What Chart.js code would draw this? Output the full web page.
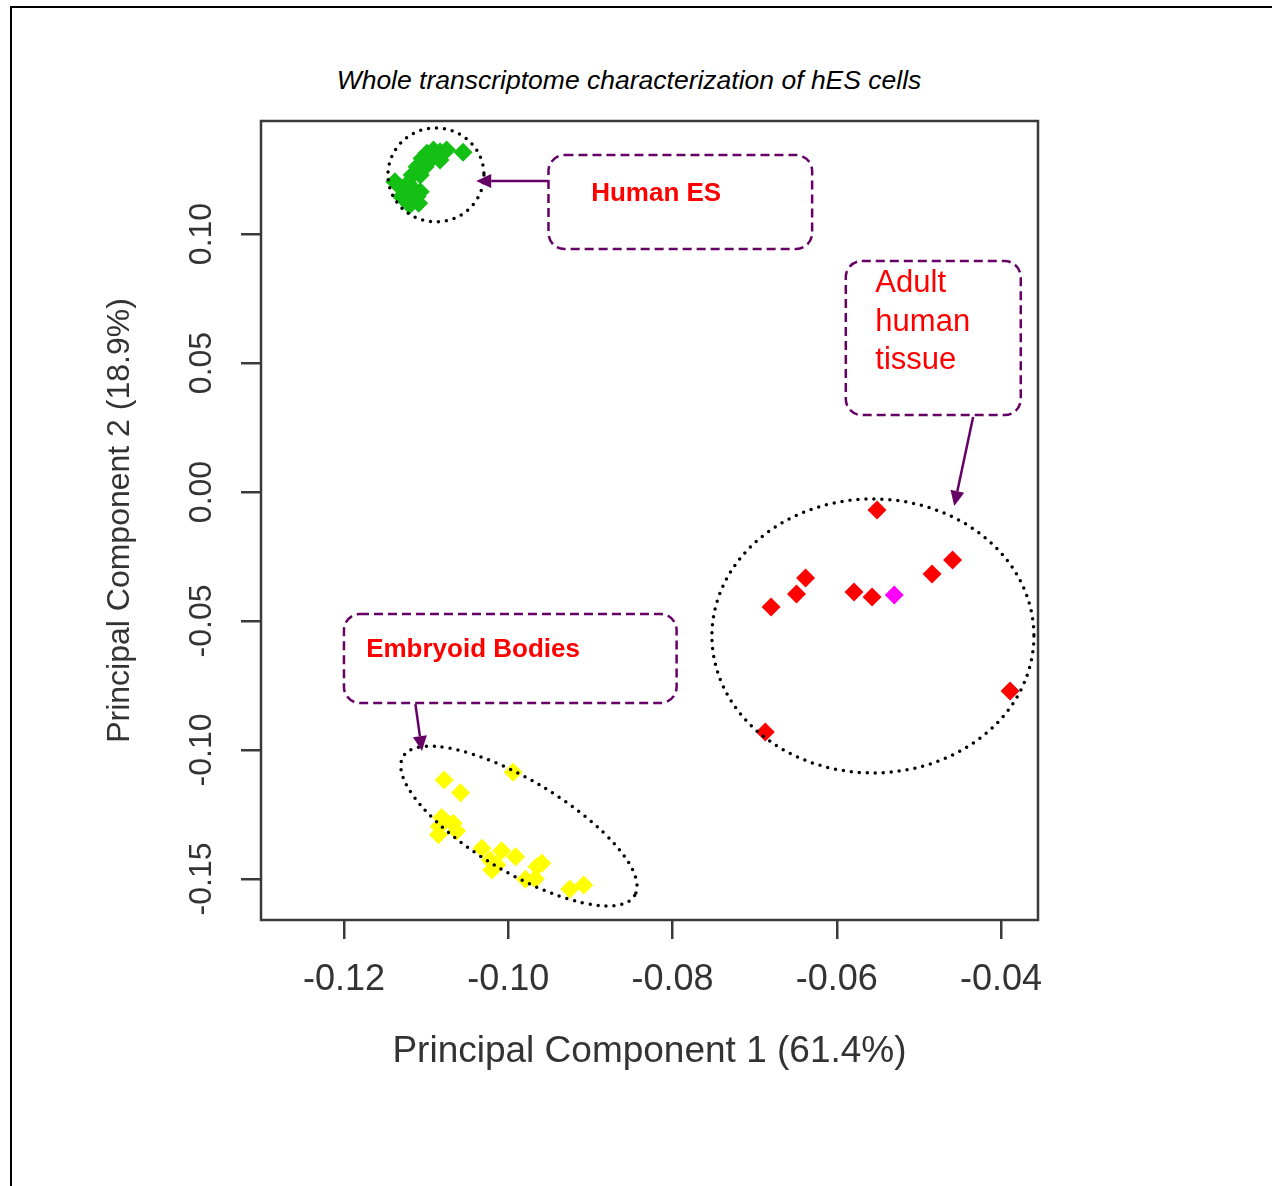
<!DOCTYPE html>
<html lang="en">
<head>
    <meta charset="UTF-8">
    <title>Whole transcriptome characterization of hES cells</title>
    <script src="https://cdn.jsdelivr.net/npm/chart.js"></script>
    <style>
        body { margin: 0; width: 1272px; height: 1186px; overflow: hidden; background: #fff; font-family: "Liberation Sans", Arial, sans-serif; position: relative; }
        .frame { position: absolute; left: 10px; top: 6px; width: 1300px; height: 1200px; border-top: 2px solid #000; border-left: 2px solid #000; }
        .title { position: absolute; left: 0; width: 1258px; top: 65px; text-align: center; font-style: italic; font-size: 26.5px; color: #000; }
        canvas { position: absolute; left: 0; top: 0; }
    </style>
</head>
<body>
    <div class="frame"></div>
    <div class="title">Whole transcriptome characterization of hES cells</div>
    <canvas id="myChart" width="1272" height="1186"></canvas>

    <script>
        // PCA scores
        const esX = [-0.1055, -0.1075, -0.1083, -0.1091, -0.1099, -0.1105, -0.1093, -0.1083, -0.1111, -0.1101, -0.1117,
                     -0.1107, -0.1122, -0.1138, -0.1132, -0.1115, -0.1126, -0.1111, -0.1107, -0.1120, -0.1109, -0.1130];
        const esY = [0.1317, 0.1326, 0.1319, 0.1326, 0.1313, 0.1293, 0.1293, 0.1287, 0.1261, 0.1261, 0.1229,
                     0.1229, 0.1197, 0.1203, 0.1183, 0.1171, 0.1151, 0.1145, 0.1164, 0.1112, 0.1119, 0.1145];

        const ebX = [-0.1078, -0.0994, -0.1058, -0.1081, -0.1084, -0.1067, -0.1063, -0.1085, -0.1032, -0.1008,
                     -0.0991, -0.1022, -0.1014, -0.1020, -0.0959, -0.0965, -0.0979, -0.0967, -0.0925, -0.0908];
        const ebY = [-0.1116, -0.1086, -0.1166, -0.1262, -0.1297, -0.1284, -0.1314, -0.1329, -0.1381, -0.1391,
                     -0.1414, -0.1426, -0.1446, -0.1465, -0.1439, -0.1452, -0.1501, -0.1500, -0.1539, -0.1523];

        const adultX = [-0.0551, -0.0459, -0.0484, -0.0638, -0.0649, -0.0680, -0.0579, -0.0557, -0.0389, -0.0687];
        const adultY = [-0.0070, -0.0264, -0.0318, -0.0333, -0.0395, -0.0446, -0.0388, -0.0407, -0.0771, -0.0930];

        const otherX = [-0.0530];
        const otherY = [-0.0399];

        const xTicks = [-0.12, -0.10, -0.08, -0.06, -0.04];
        const yTicks = [-0.15, -0.10, -0.05, 0.00, 0.05, 0.10];

        const pts = (xs, ys) => xs.map((v, i) => ({ x: v, y: ys[i] }));

        // callouts, anchored in data units
        const ellipses = [
            { x: -0.1088, y: 0.1229, rx: 48, ry: 47, rot: 0 },
            { x: -0.0987, y: -0.1295, rx: 135, ry: 46, rot: 31 },
            { x: -0.0556, y: -0.0558, rx: 161, ry: 137, rot: 0 }
        ];
        const boxes = [
            { x0: -0.0951, y0: 0.1306, x1: -0.0630, y1: 0.0942 },
            { x0: -0.0589, y0: 0.0895, x1: -0.0376, y1: 0.0298 },
            { x0: -0.1200, y0: -0.0473, x1: -0.0795, y1: -0.0818 }
        ];
        const arrows = [
            { x0: -0.0951, y0: 0.1205, x1: -0.1039, y1: 0.1205 },
            { x0: -0.0434, y0: 0.0291, x1: -0.0457, y1: -0.0054 },
            { x0: -0.1113, y0: -0.0822, x1: -0.1105, y1: -0.1004 }
        ];
        const notes = [
            { x: -0.0899, y: 0.1128, lines: ['Human ES'], font: 'bold 26px "Liberation Sans", Arial' },
            { x: -0.1173, y: -0.0640, lines: ['Embryoid Bodies'], font: 'bold 26px "Liberation Sans", Arial' },
            { x: -0.0553, y: 0.0775, lines: ['Adult', 'human', 'tissue'], font: '31px "Liberation Sans", Arial' }
        ];

        const callouts = {
            id: 'callouts',
            beforeDatasetsDraw(chart) {
                const { ctx, chartArea: a } = chart;
                ctx.save();
                ctx.strokeStyle = '#3a3a3a';
                ctx.lineWidth = 2.5;
                ctx.strokeRect(a.left, a.top, a.right - a.left, a.bottom - a.top);
                ctx.restore();
            },
            afterDatasetsDraw(chart) {
                const { ctx, scales: { x, y } } = chart;
                const X = v => x.getPixelForValue(v);
                const Y = v => y.getPixelForValue(v);
                ctx.save();

                // dotted ellipses
                ctx.strokeStyle = '#000';
                ctx.lineWidth = 3.5;
                ctx.lineCap = 'round';
                ctx.setLineDash([0, 8]);
                ellipses.forEach(e => {
                    ctx.beginPath();
                    ctx.ellipse(X(e.x), Y(e.y), e.rx, e.ry, e.rot * Math.PI / 180, 0, 2 * Math.PI);
                    ctx.stroke();
                });

                // dashed label boxes
                ctx.strokeStyle = '#660066';
                ctx.lineWidth = 2.5;
                ctx.lineCap = 'butt';
                ctx.setLineDash([9, 5]);
                boxes.forEach(b => {
                    const l = X(b.x0), t = Y(b.y0);
                    ctx.beginPath();
                    ctx.roundRect(l, t, X(b.x1) - l, Y(b.y1) - t, 16);
                    ctx.stroke();
                });

                // arrows
                ctx.setLineDash([]);
                ctx.fillStyle = '#660066';
                arrows.forEach(ar => {
                    const x0 = X(ar.x0), y0 = Y(ar.y0), x1 = X(ar.x1), y1 = Y(ar.y1);
                    const ang = Math.atan2(y1 - y0, x1 - x0);
                    const hl = 15, hw = 7;
                    ctx.beginPath();
                    ctx.moveTo(x0, y0);
                    ctx.lineTo(x1 - hl * Math.cos(ang), y1 - hl * Math.sin(ang));
                    ctx.stroke();
                    ctx.beginPath();
                    ctx.moveTo(x1, y1);
                    ctx.lineTo(x1 - hl * Math.cos(ang) + hw * Math.sin(ang), y1 - hl * Math.sin(ang) - hw * Math.cos(ang));
                    ctx.lineTo(x1 - hl * Math.cos(ang) - hw * Math.sin(ang), y1 - hl * Math.sin(ang) + hw * Math.cos(ang));
                    ctx.closePath();
                    ctx.fill();
                });

                // red labels
                ctx.fillStyle = '#ff0000';
                ctx.textAlign = 'left';
                ctx.textBaseline = 'alphabetic';
                notes.forEach(n => {
                    ctx.font = n.font;
                    n.lines.forEach((s, i) => ctx.fillText(s, X(n.x), Y(n.y) + i * 38.5));
                });
                ctx.restore();
            }
        };

        const ctx = document.getElementById('myChart').getContext('2d');
        const chart = new Chart(ctx, {
            type: 'scatter',
            data: {
                datasets: [
                    { label: 'Human ES', data: pts(esX, esY), backgroundColor: '#14c014' },
                    { label: 'Embryoid Bodies', data: pts(ebX, ebY), backgroundColor: '#ffff00' },
                    { label: 'Adult human tissue', data: pts(adultX, adultY), backgroundColor: '#ff0000' },
                    { label: 'Other', data: pts(otherX, otherY), backgroundColor: '#ff00ff' }
                ]
            },
            options: {
                responsive: false,
                animation: false,
                layout: { padding: { left: 0, top: 121, right: 234, bottom: 0 } },
                elements: { point: { pointStyle: 'rectRot', radius: 9.5, borderWidth: 0 } },
                plugins: { legend: { display: false }, tooltip: { enabled: false } },
                scales: {
                    x: {
                        type: 'linear',
                        min: -0.1301,
                        max: -0.0355,
                        afterFit: s => { s.height = 266; },
                        afterBuildTicks: s => { s.ticks = xTicks.map(v => ({ value: v })); },
                        border: { display: false },
                        grid: { drawOnChartArea: false, drawTicks: true, tickLength: 19, color: '#3a3a3a', lineWidth: 2.5 },
                        ticks: {
                            padding: 19,
                            color: '#333',
                            font: { family: '"Liberation Sans", Arial', size: 36 },
                            maxRotation: 0,
                            autoSkip: false,
                            callback: v => v.toFixed(2)
                        },
                        title: {
                            display: true,
                            text: 'Principal Component 1 (61.4%)',
                            color: '#333',
                            font: { family: '"Liberation Sans", Arial', size: 37 },
                            padding: { top: 0, bottom: 112 }
                        }
                    },
                    y: {
                        type: 'linear',
                        min: -0.1659,
                        max: 0.1438,
                        afterFit: s => { s.width = 261; },
                        afterBuildTicks: s => { s.ticks = yTicks.map(v => ({ value: v })); },
                        border: { display: false },
                        grid: { drawOnChartArea: false, drawTicks: true, tickLength: 20, color: '#3a3a3a', lineWidth: 2.5 },
                        ticks: {
                            padding: 2,
                            color: '#333',
                            font: { family: '"Liberation Sans", Arial', size: 32 },
                            minRotation: 90,
                            maxRotation: 90,
                            crossAlign: 'center',
                            autoSkip: false,
                            callback: v => v.toFixed(2)
                        },
                        title: {
                            display: true,
                            text: 'Principal Component 2 (18.9%)',
                            color: '#333',
                            font: { family: '"Liberation Sans", Arial', size: 32 },
                            padding: { top: 101, bottom: 0 }
                        }
                    }
                }
            },
            plugins: [callouts]
        });
    </script>
</body>
</html>
